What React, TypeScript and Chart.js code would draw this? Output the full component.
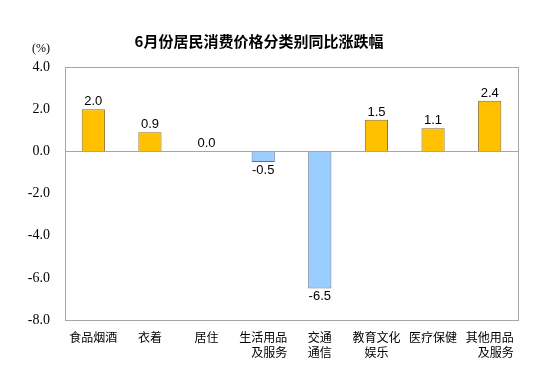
import React, { useEffect, useRef } from "react";
import { Chart, registerables } from "chart.js";

Chart.register(...registerables);

const titleText = "6月份居民消费价格分类别同比涨跌幅";
const categories: string[][] = [
  ["食品烟酒"],
  ["衣着"],
  ["居住"],
  ["生活用品", "　及服务"],
  ["交通", "通信"],
  ["教育文化", "娱乐"],
  ["医疗保健"],
  ["其他用品", "　及服务"],
];
const values = [2.0, 0.9, 0.0, -0.5, -6.5, 1.5, 1.1, 2.4];
const yMin = -8;
const yMax = 4;
const yStep = 2;

const posFill = "#FFC000";
const posBorder = "#8C6D1F";
const negFill = "#99CCFF";
const negBorder = "#5A7390";

const overlay = {
  id: "overlay",
  afterDatasetsDraw(chart: any) {
    const { ctx, chartArea } = chart;
    const y = chart.scales.y;
    ctx.save();
    ctx.strokeStyle = "#A6A6A6";
    ctx.lineWidth = 1;
    ctx.strokeRect(
      Math.round(chartArea.left) + 0.5,
      Math.round(chartArea.top) + 0.5,
      Math.round(chartArea.right - chartArea.left),
      Math.round(chartArea.bottom - chartArea.top)
    );
    const zy = Math.round(y.getPixelForValue(0)) + 0.5;
    ctx.beginPath();
    ctx.moveTo(chartArea.left, zy);
    ctx.lineTo(chartArea.right, zy);
    ctx.stroke();
    const meta = chart.getDatasetMeta(0);
    ctx.fillStyle = "#000";
    ctx.font = "13px 'Liberation Sans', Arial, sans-serif";
    ctx.textAlign = "center";
    meta.data.forEach((bar: any, i: number) => {
      const v = values[i];
      const label = v.toFixed(1);
      if (v >= 0) {
        ctx.textBaseline = "bottom";
        ctx.fillText(label, bar.x, bar.y - 1);
      } else {
        ctx.textBaseline = "top";
        ctx.fillText(label, bar.x, bar.y + 2);
      }
    });
    ctx.font = "bold 15px 'Noto Sans CJK SC', sans-serif";
    ctx.textBaseline = "middle";
    ctx.fillText(titleText, 259, 41);
    ctx.font = "12px 'Liberation Serif', serif";
    ctx.textAlign = "center";
    ctx.fillText("(%)", 41, 49);
    ctx.restore();
  },
};

export default function App() {
  const ref = useRef<HTMLCanvasElement | null>(null);
  useEffect(() => {
    document.body.style.margin = "0";
    const chart = new Chart(ref.current as HTMLCanvasElement, {
      type: "bar",
      data: {
        labels: categories,
        datasets: [
          {
            data: values,
            backgroundColor: values.map((v) => (v >= 0 ? posFill : negFill)),
            borderColor: values.map((v) => (v >= 0 ? posBorder : negBorder)),
            borderWidth: 1,
            barPercentage: 0.41,
            categoryPercentage: 1,
          },
        ],
      },
      options: {
        responsive: false,
        animation: false,
        layout: { padding: { left: 0, right: 34, top: 67, bottom: 0 } },
        plugins: {
          legend: { display: false },
          title: { display: false },
          tooltip: { enabled: false },
        },
        scales: {
          x: {
            grid: { display: false },
            border: { display: false },
            ticks: {
              color: "#000",
              font: { family: "'Noto Sans CJK SC', sans-serif", size: 12, lineHeight: 1.25 },
              padding: 2,
              maxRotation: 0,
              autoSkip: false,
            },
            afterFit: (s: any) => {
              s.height = 60;
            },
          },
          y: {
            min: yMin,
            max: yMax,
            grid: { display: false },
            border: { display: false },
            ticks: {
              stepSize: yStep,
              color: "#000",
              font: { family: "'Liberation Serif', serif", size: 14 },
              padding: 7,
              callback: (v: any) => Number(v).toFixed(1),
            },
            afterFit: (s: any) => {
              s.width = 65;
            },
          },
        },
      },
      plugins: [overlay],
    });
    return () => chart.destroy();
  }, []);
  return (
    <div style={{ width: 552, height: 380, background: "#fff" }}>
      <canvas ref={ref} width={552} height={380} />
    </div>
  );
}
